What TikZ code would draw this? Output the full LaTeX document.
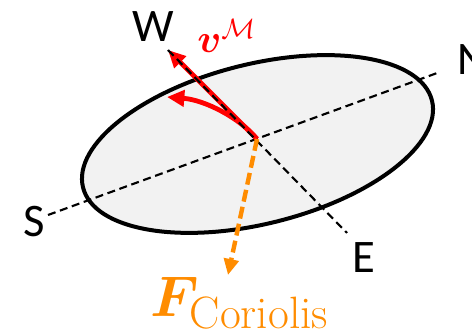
\RequirePackage{fix-cm}
\documentclass[tikz,border=0pt]{standalone}
\usepackage{amsmath,bm}
\usepackage{fontspec}
\newfontfamily\calib{Carlito}
\usetikzlibrary{arrows.meta}
\definecolor{orng}{RGB}{255,140,0}
\definecolor{redv}{RGB}{255,0,0}
\definecolor{fillg}{RGB}{242,242,242}
\tikzset{
  lbl/.style={inner sep=0pt, anchor=base west, font=\calib\fontsize{35}{40}\selectfont},
  axisline/.style={black, line width=1.6pt, dash pattern=on 6pt off 3.5pt},
  redarrow/.style={redv, line width=3.6pt, -{Triangle[length=13pt,width=12pt]}},
  orarrow/.style={orng, line width=3.3pt, dash pattern=on 9pt off 4pt, -{Triangle[length=12pt,width=11pt]}},
}
\begin{document}
\begin{tikzpicture}[x=0.75pt,y=0.75pt]
\useasboundingbox (0,0) rectangle (472,-331);
\coordinate (C) at (257.5,-144);
\coordinate (O) at (257,-139);
\coordinate (Wt) at (168,-50);
\coordinate (Et) at (347,-233);
\coordinate (St) at (48,-215);
\coordinate (Nt) at (438,-72.7);
\coordinate (Ct) at (167,-97);
\coordinate (Ft) at (228,-275);
\draw[line width=3pt, fill=fillg] (C) ellipse[x radius=134.85pt, y radius=59.9pt, rotate=14];
\draw[axisline] (St) -- (Nt);
\draw[redarrow] (O) .. controls (240,-118) and (205,-100) .. (Ct);
\draw[redarrow] (O) -- (Wt);
\draw[axisline] (Wt) -- (Et);
\draw[orarrow] (O) -- (Ft);
\node[lbl] (W) at (132,-41.7) {W};
\node[lbl] (N) at (457,-75) {N};
\node[lbl] (S) at (23,-237) {S};
\node[lbl] (E) at (352,-273) {E};
\node[inner sep=0pt, anchor=base west, text=redv, font=\fontsize{30}{36}\selectfont] (v) at (197,-53) {$\bm{v}^{\mathcal{M}}$};
\node[inner sep=0pt, anchor=base west, text=orng, font=\fontsize{43}{48}\selectfont] (F) at (150,-317) {$\bm{F}_{\text{\fontsize{34}{36}\selectfont\rmfamily Coriolis}}$};
\end{tikzpicture}
\end{document}
